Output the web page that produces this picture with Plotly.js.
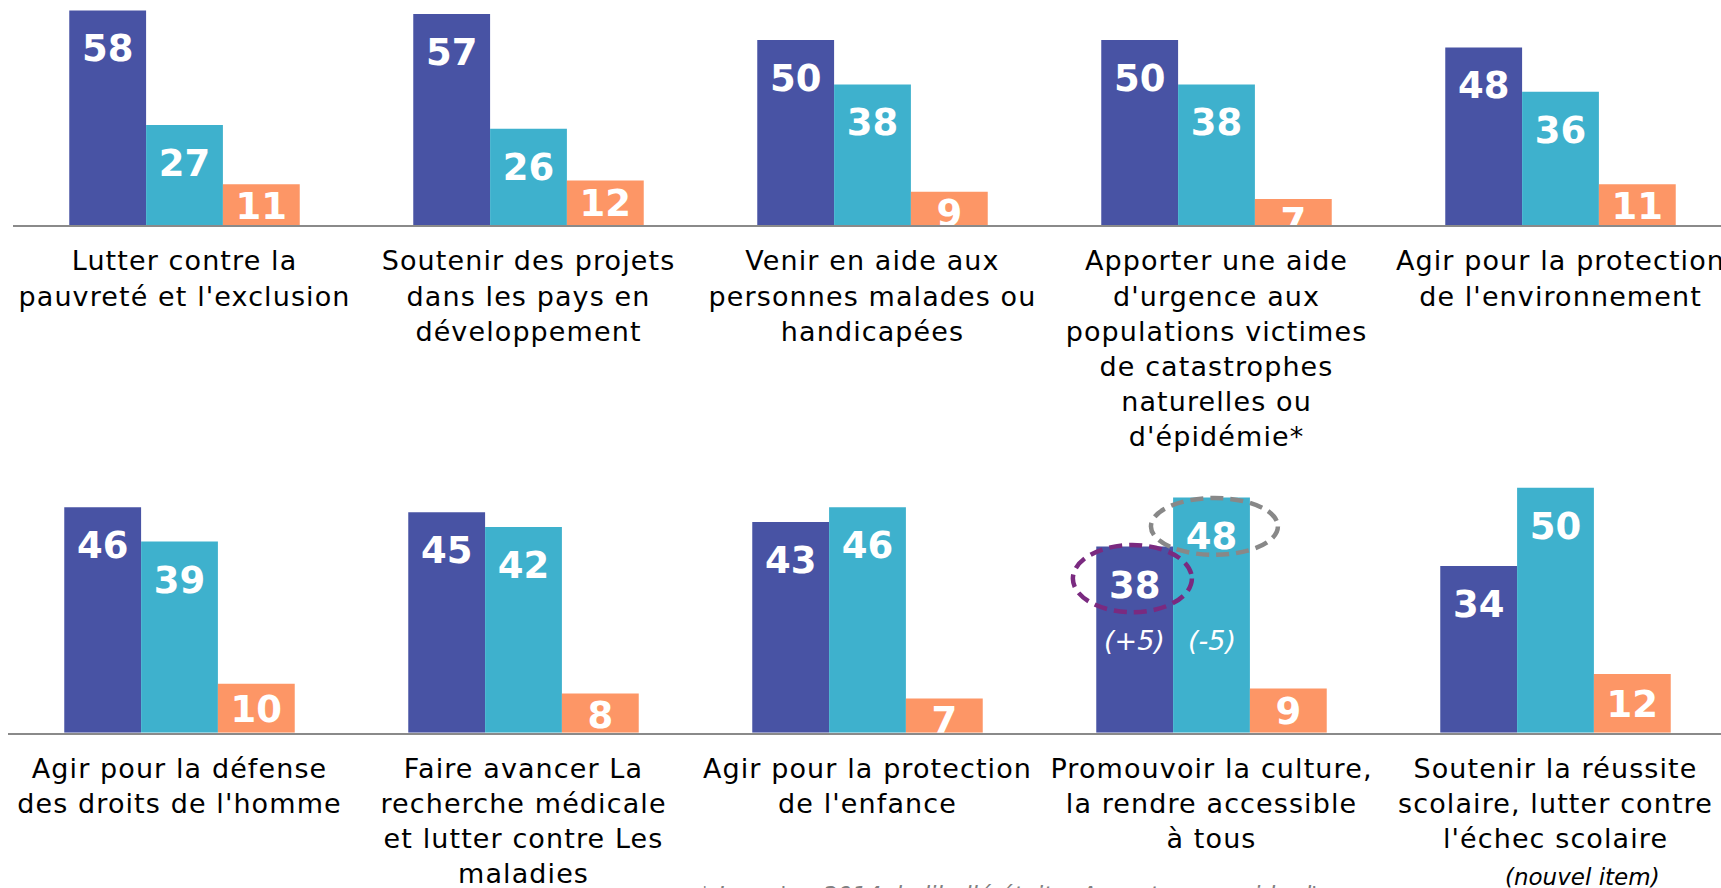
<!DOCTYPE html>
<html>
<head>
<meta charset="utf-8">
<script src="https://cdn.plot.ly/plotly-3.0.1.min.js"></script>
<style>
  html, body { margin: 0; padding: 0; background: #ffffff; }
  #chart { width: 1721px; height: 888px; }
  #chart .xtick text, #chart .x2tick text { letter-spacing: 1.1px; }
</style>
</head>
<body>
<div id="chart"></div>
<script>
// ---------- data ----------
const topCategories = [
  "Lutter contre la<br>pauvreté et l'exclusion",
  "Soutenir des projets<br>dans les pays en<br>développement",
  "Venir en aide aux<br>personnes malades ou<br>handicapées",
  "Apporter une aide<br>d'urgence aux<br>populations victimes<br>de catastrophes<br>naturelles ou<br>d'épidémie*",
  "Agir pour la protection<br>de l'environnement"
];
const topSeries1 = [58, 57, 50, 50, 48];
const topSeries2 = [27, 26, 38, 38, 36];
const topSeries3 = [11, 12, 9, 7, 11];

const bottomCategories = [
  "Agir pour la défense<br>des droits de l'homme",
  "Faire avancer La<br>recherche médicale<br>et lutter contre Les<br>maladies",
  "Agir pour la protection<br>de l'enfance",
  "Promouvoir la culture,<br>la rendre accessible<br>à tous",
  "Soutenir la réussite<br>scolaire, lutter contre<br>l'échec scolaire"
];
const bottomSeries1 = [46, 45, 43, 38, 34];
const bottomSeries2 = [39, 42, 46, 48, 50];
const bottomSeries3 = [10, 8, 7, 9, 12];

const changeLabels = ["(+5)", "(-5)"];
const noteNewItem = "(nouvel item)";
const footnote = "* Jusqu'en 2014, le libellé était « Apporter une aide d'urgence<br>aux populations victimes de catastrophes naturelles »";

// ---------- style ----------
const colors = ["#4853a4", "#3eb1cd", "#fd9666"];
const W = 1721, H = 888;
const FONT = "DejaVu Sans, Verdana, sans-serif";
const labelFont = { family: FONT, size: 37, color: "#ffffff", weight: "bold" };

const step = 344;          // px per category
const topLeft = 12.5, botLeft = 7.5;
const topBase = 225, botBase = 732.7, botTop = 440;
const topPx = 3.7, botPx = 4.9;   // pixels per unit

// value label sits near the top of the bar, or mid-bar for short bars
function labelOffsetSizes(vals, pxPerUnit) {
  return vals.map(v => {
    const h = v * pxPerUnit;
    const c = Math.min(37.5, Math.max(h / 2, 21));
    const r = c - 14.25;
    return Math.max(0, (r - 1) * 1.6);
  });
}

function barTrace(cats, vals, color, xa, ya) {
  return {
    type: "bar", x: cats, y: vals, xaxis: xa, yaxis: ya,
    marker: { color: color, line: { width: 0 } },
    hoverinfo: "skip", showlegend: false
  };
}
function textTrace(cats, vals, xa, ya, pxPerUnit) {
  return {
    type: "scatter", mode: "markers+text", x: cats, y: vals, xaxis: xa, yaxis: ya,
    text: vals.map(String), textposition: "bottom center",
    textfont: labelFont,
    marker: { size: labelOffsetSizes(vals, pxPerUnit), color: "rgba(0,0,0,0)", opacity: 0,
              line: { width: 0, color: "rgba(0,0,0,0)" } },
    cliponaxis: true, hoverinfo: "skip", showlegend: false
  };
}

const data = [
  barTrace(topCategories, topSeries1, colors[0], "x", "y"),
  barTrace(topCategories, topSeries2, colors[1], "x", "y"),
  barTrace(topCategories, topSeries3, colors[2], "x", "y"),
  barTrace(bottomCategories, bottomSeries1, colors[0], "x2", "y2"),
  barTrace(bottomCategories, bottomSeries2, colors[1], "x2", "y2"),
  barTrace(bottomCategories, bottomSeries3, colors[2], "x2", "y2"),
  textTrace(topCategories, topSeries1, "x", "y", topPx),
  textTrace(topCategories, topSeries2, "x", "y", topPx),
  textTrace(topCategories, topSeries3, "x", "y", topPx),
  textTrace(bottomCategories, bottomSeries1, "x2", "y2", botPx),
  textTrace(bottomCategories, bottomSeries2, "x2", "y2", botPx),
  textTrace(bottomCategories, bottomSeries3, "x2", "y2", botPx)
];

const tickFont = { family: FONT, size: 27, color: "#000000" };

function xAxis(left, anchor) {
  return {
    type: "category", anchor: anchor,
    domain: [left / W, 1],
    range: [-0.5, -0.5 + (W - left) / step],
    showline: true, linecolor: "#8a8a8a", linewidth: 2,
    showgrid: false, zeroline: false, ticks: "",
    tickfont: tickFont, tickangle: 0, automargin: false,
    ticklabelstandoff: 11, fixedrange: true
  };
}

const groupSlot = (1 - 0.33) / 3;

const layout = {
  width: W, height: H,
  margin: { l: 0, r: 0, t: 0, b: 0, pad: 0 },
  paper_bgcolor: "#ffffff", plot_bgcolor: "rgba(0,0,0,0)",
  barmode: "group", bargap: 0.33, bargroupgap: 0,
  scattermode: "group", scattergap: 0.33,
  showlegend: false,
  xaxis: xAxis(topLeft, "y"),
  xaxis2: xAxis(botLeft, "y2"),
  yaxis: { domain: [1 - topBase / H, 1], range: [0, topBase / topPx], visible: false, fixedrange: true },
  yaxis2: { domain: [1 - botBase / H, 1 - botTop / H], range: [0, (botBase - botTop) / botPx], visible: false, fixedrange: true },
  shapes: [
    { type: "circle", xref: "x2", yref: "y2", x0: 2.597, x1: 2.943, y0: 24.6, y1: 38.3,
      line: { color: "#7a2a80", width: 4.5, dash: "13px,7px" }, fillcolor: "rgba(0,0,0,0)", layer: "above" },
    { type: "circle", xref: "x2", yref: "y2", x0: 2.824, x1: 3.193, y0: 36.3, y1: 47.9,
      line: { color: "#888888", width: 4.5, dash: "13px,7px" }, fillcolor: "rgba(0,0,0,0)", layer: "above" }
  ],
  annotations: [
    { xref: "x2", yref: "y2", x: 3 - groupSlot, y: 18.9, text: changeLabels[0], showarrow: false,
      font: { family: FONT, size: 27, color: "#ffffff", style: "italic" },
      xanchor: "center", yanchor: "middle" },
    { xref: "x2", yref: "y2", x: 3, y: 18.9, text: changeLabels[1], showarrow: false,
      font: { family: FONT, size: 27, color: "#ffffff", style: "italic" },
      xanchor: "center", yanchor: "middle" },
    { xref: "paper", yref: "paper", x: 697 / W, y: 1 - 880 / H, text: footnote, showarrow: false,
      font: { family: FONT, size: 23, color: "#808080", style: "italic" },
      xanchor: "left", yanchor: "top", align: "left" },
    { xref: "paper", yref: "paper", x: 1582 / W, y: 1 - 877 / H, text: noteNewItem, showarrow: false,
      font: { family: FONT, size: 23, color: "#000000", style: "italic" },
      xanchor: "center", yanchor: "middle" }
  ]
};

Plotly.newPlot("chart", data, layout, { staticPlot: true, displayModeBar: false });
</script>
</body>
</html>
